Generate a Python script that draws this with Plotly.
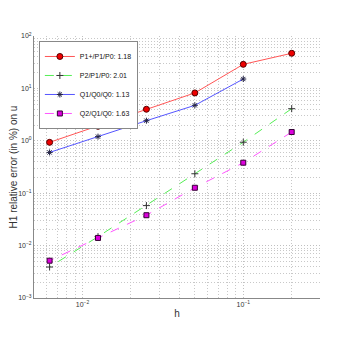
import plotly.graph_objects as go

h = [0.2, 0.1, 0.05, 0.025, 0.0125, 0.00625]
h_q1 = [0.1, 0.05, 0.025, 0.0125, 0.00625]
p1p = [46.8, 28.8, 8.2, 4.0, 1.89, 0.935]
p2 = [4.1, 0.94, 0.235, 0.058, 0.0148, 0.0039]
q1 = [15.1, 4.75, 2.42, 1.2, 0.60]
q2 = [1.47, 0.382, 0.127, 0.038, 0.014, 0.00515]
names = ["P1+/P1/P0: 1.18", "P2/P1/P0: 2.01", "Q1/Q0/Q0: 1.13", "Q2/Q1/Q0: 1.63"]
xtick_vals = [0.01, 0.1]
xtick_text = ["10<sup>−2</sup>", "10<sup>−1</sup>"]
ytick_vals = [1e-3, 1e-2, 1e-1, 1, 10, 100]
ytick_text = ["10<sup>−3</sup>", "10<sup>−2</sup>", "10<sup>−1</sup>", "10<sup>0</sup>", "10<sup>1</sup>", "10<sup>2</sup>"]

x_minor = [m * 10.0 ** e for e in range(-3, 0) for m in range(2, 10)]
y_minor = [m * 10.0 ** e for e in range(-3, 2) for m in range(2, 10)]

fig = go.Figure()
fig.add_trace(go.Scatter(x=h, y=p1p, name=names[0], mode="lines+markers",
                         line=dict(color="#ff5555", width=1),
                         marker=dict(symbol="circle", size=6, color="#ee0000",
                                     line=dict(color="#550000", width=1))))
fig.add_trace(go.Scatter(x=h, y=p2, name=names[1], mode="lines+markers",
                         line=dict(color="#55ee55", width=1, dash="dash"),
                         marker=dict(symbol="cross-thin-open", size=5, color="#333333",
                                     line=dict(color="#333333", width=1))))
fig.add_trace(go.Scatter(x=h_q1, y=q1, name=names[2], mode="lines+markers",
                         line=dict(color="#5555ff", width=1),
                         marker=dict(symbol="asterisk-open", size=5, color="#222244",
                                     line=dict(color="#222244", width=1))))
fig.add_trace(go.Scatter(x=h, y=q2, name=names[3], mode="lines+markers",
                         line=dict(color="#ff55ff", width=1, dash="dash"),
                         marker=dict(symbol="square", size=5, color="#dd00dd",
                                     line=dict(color="#330033", width=1))))

dotted = "1px,2px"
fig.update_xaxes(type="log", range=[-2.301, -0.523], tickmode="array", tickvals=xtick_vals, ticktext=xtick_text,
                 ticks="outside", ticklen=0, showline=True, linecolor="#888888", linewidth=1,
                 tickfont=dict(size=7, color="#333333"), zeroline=False, automargin=False,
                 showgrid=True, gridcolor="#c0c0c0", griddash=dotted, gridwidth=1,
                 minor=dict(showgrid=True, gridcolor="#c8c8c8", griddash=dotted, ticks="",
                            tickmode="array", tickvals=x_minor),
                 title=dict(text="h", font=dict(size=10, color="#333333"), standoff=2))
fig.update_yaxes(type="log", range=[-3, 2], tickmode="array", tickvals=ytick_vals, ticktext=ytick_text,
                 ticks="outside", ticklen=0, showline=True, linecolor="#888888", linewidth=1,
                 tickfont=dict(size=7, color="#333333"), zeroline=False, automargin=False,
                 showgrid=True, gridcolor="#c0c0c0", griddash=dotted, gridwidth=1,
                 minor=dict(showgrid=True, gridcolor="#c8c8c8", griddash=dotted, ticks="",
                            tickmode="array", tickvals=y_minor),
                 title=dict(text="H1 relative error (in %) on u", font=dict(size=10, color="#333333"), standoff=0))
fig.update_layout(width=324, height=346, margin=dict(l=26, r=12, t=28, b=56),
                  plot_bgcolor="white", paper_bgcolor="white",
                  font=dict(family="Liberation Sans, Arial, sans-serif"),
                  legend=dict(x=0.017, y=0.981, xanchor="left", yanchor="top",
                              bgcolor="white", bordercolor="#888888", borderwidth=1,
                              itemwidth=30,
                              font=dict(size=7, color="#111111")))
fig.write_html("out.html")
